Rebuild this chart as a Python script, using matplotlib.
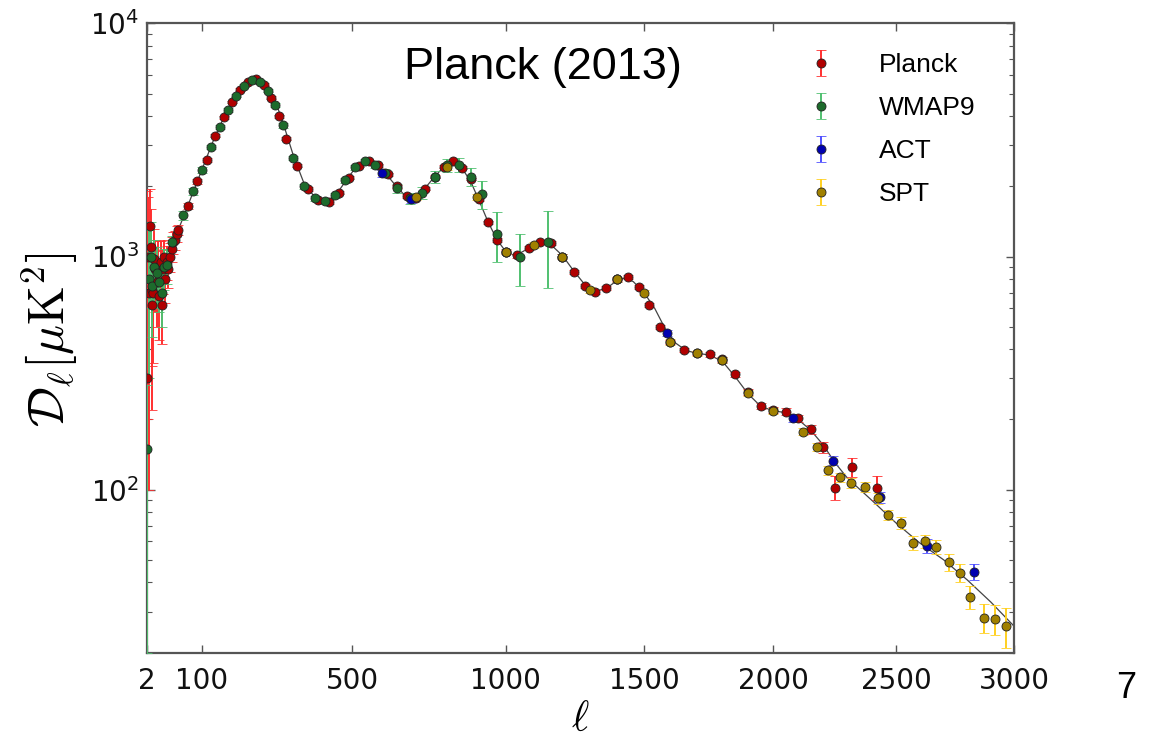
import numpy as np
import matplotlib
matplotlib.use("Agg")
import matplotlib.pyplot as plt
from matplotlib.ticker import FixedLocator, LogLocator, NullFormatter, FixedFormatter

# ---------------- data ----------------
# best-fit model curve
model_l = [2, 5, 10, 20, 30, 40, 50, 70, 90, 110, 130, 150, 170, 190, 210, 225, 240, 260, 280, 300,
           330, 360, 390, 420, 450, 480, 510, 540, 570, 600, 630, 660, 690, 720, 760, 790, 820,
           850, 880, 910, 940, 970, 1000, 1030, 1060, 1100, 1130, 1160, 1200, 1240, 1280, 1320,
           1360, 1400, 1430, 1460, 1500, 1540, 1580, 1620, 1660, 1700, 1750, 1800, 1850, 1900,
           1950, 2000, 2050, 2100, 2150, 2200, 2250, 2300, 2400, 2500, 2600, 2700, 2800, 2900, 3000]
model_D = [1000, 850, 800, 850, 950, 1100, 1280, 1650, 2100, 2650, 3300, 3950, 4600, 5200, 5600, 5720,
           5650, 5300, 4650, 3800, 2700, 2050, 1800, 1720, 1820, 2100, 2400, 2550, 2500, 2300, 2050,
           1850, 1790, 1900, 2200, 2420, 2520, 2400, 2100, 1720, 1400, 1180, 1050, 1010, 1050, 1130,
           1160, 1120, 1010, 870, 760, 710, 730, 790, 810, 780, 700, 600, 490, 425, 395, 385, 378,
           355, 305, 258, 228, 218, 214, 200, 180, 156, 130, 112, 90, 72, 59, 50, 41, 33, 26]

# Planck
planck_l = [2, 3, 4, 5, 6, 7, 8, 9, 10, 12, 14, 16, 18, 20, 22, 24, 26, 28, 30, 33, 36, 39, 42, 45, 48,
            50, 70, 90, 110, 130, 150, 170, 190, 210, 230, 250, 270, 290, 310, 340, 370, 400, 430,
            460, 490, 520, 550, 580, 610, 640, 670, 700, 730, 760, 790, 820, 850, 880, 910, 940,
            970, 1000, 1040, 1080, 1120, 1160, 1200, 1240, 1280, 1320, 1360, 1400, 1440, 1480,
            1520, 1560, 1600, 1650, 1700, 1750, 1800, 1850, 1900, 1950, 2000, 2050, 2100, 2150,
            2200, 2250, 2320, 2420]
planck_D = [300, 1000, 700, 1350, 1100, 620, 720, 700, 980, 880, 780, 900, 680, 950, 620, 880, 1000,
            800, 950, 880, 1000, 1080, 1150, 1180, 1250,
            1300, 1650, 2100, 2600, 3300, 3950, 4600, 5200, 5600, 5750, 5450, 4800, 4000, 3200,
            2450, 1950, 1750, 1710, 1880, 2180, 2450, 2560, 2460, 2250, 2000, 1820, 1790, 1950,
            2200, 2430, 2560, 2400, 2150, 1760, 1400, 1180, 1050, 1010, 1090, 1150, 1140, 1000,
            860, 750, 705, 735, 800, 815, 740, 620, 500, 430, 398, 386, 380, 362, 312, 262,
            228, 220, 216, 202, 182, 152, 102, 125, 102]
planck_err = [1600, 800, 600, 600, 500, 400, 380, 350, 330, 300, 280, 260, 240, 220, 200, 190, 180,
              170, 160, 150, 140, 130, 120, 110, 100,
              60, 50, 50, 50, 60, 60, 60, 70, 70, 70, 70, 60, 60, 50, 40, 35, 30, 30, 30, 30, 35,
              35, 35, 30, 30, 30, 30, 30, 35, 35, 35, 35, 30, 30, 25, 25, 20, 20, 20, 20, 20, 20,
              18, 15, 15, 15, 15, 15, 15, 12, 10, 10, 8, 8, 8, 8, 8, 7, 7, 7, 7, 7, 8, 8, 12, 12, 12]

# WMAP9
wmap_l = [2, 4, 6, 8, 10, 14, 18, 22, 26, 30, 40, 60, 80, 100, 120, 140, 160, 180, 200, 220, 240,
          260, 280, 300, 330, 360, 390, 420, 450, 480, 510, 540, 570, 600, 640, 680, 720, 760,
          800, 840, 880, 920, 970, 1050, 1150]
wmap_D = [150, 800, 1000, 750, 900, 850, 780, 700, 900, 920, 1150, 1500, 1900, 2350, 2950, 3600,
          4250, 4900, 5400, 5700, 5600, 5150, 4450, 3650, 2650, 2000, 1780, 1730, 1830, 2120, 2420,
          2560, 2480, 2280, 1960, 1780, 1870, 2200, 2460, 2480, 2200, 1850, 1250, 1000, 1150]
wmap_err = [130, 500, 400, 300, 280, 250, 200, 200, 180, 160, 80, 60, 60, 60, 70, 80, 80, 90, 90,
            90, 90, 90, 80, 80, 60, 50, 45, 45, 50, 55, 60, 70, 80, 90, 90, 100, 110, 130, 150,
            170, 200, 250, 300, 250, 420]

# ACT
act_l = [593, 685, 1000, 1200, 1400, 1586, 1800, 2081, 2240, 2435, 2630, 2830]
act_D = [2280, 1760, 1050, 1000, 800, 470, 360, 203, 133, 93, 57.5, 44.4]
act_err = [80, 60, 30, 25, 20, 15, 12, 8, 6, 5, 4, 3.5]

# SPT
spt_l = [700, 800, 900, 1000, 1100, 1200, 1300, 1400, 1500, 1600, 1700, 1800, 1900, 2000, 2121,
         2174, 2222, 2270, 2315, 2372, 2427, 2467, 2522, 2572, 2621, 2666, 2721, 2767, 2813,
         2869, 2920, 2967]
spt_D = [1800, 2420, 1800, 1050, 1120, 1000, 720, 800, 700, 430, 385, 360, 260, 218, 177, 152,
         121, 113, 107, 103, 92, 78, 72, 59, 60, 57, 49, 44, 34.7, 28.2, 27.9, 26.0]
spt_err = [60, 60, 50, 30, 30, 25, 20, 20, 15, 12, 10, 10, 8, 7, 6, 6, 5, 5, 5, 5, 5, 4, 4,
           4, 4, 4, 4, 4, 4, 4, 4, 5]

legend_labels = ["Planck", "WMAP9", "ACT", "SPT"]
x_ticks = [2, 100, 500, 1000, 1500, 2000, 2500, 3000]

# ---------------- figure ----------------
W, H = 1154, 742
tick_font = "Liberation Sans Narrow"
plt.rcParams["mathtext.rm"] = tick_font
plt.rcParams["mathtext.it"] = tick_font + ":italic"
plt.rcParams["mathtext.bf"] = tick_font + ":bold"

fig = plt.figure(figsize=(W / 100, H / 100), dpi=100)
ax = fig.add_axes([147.3 / W, 1 - 652.7 / H, (1014 - 147.3) / W, (652.7 - 23.3) / H])

p = 0.8
fwd = lambda x: np.sign(x) * np.abs(x) ** p
inv = lambda y: np.sign(y) * np.abs(y) ** (1 / p)
ax.set_xscale("function", functions=(fwd, inv))
ax.set_yscale("log")

ax.plot(model_l, model_D, color="#444444", lw=0.9, zorder=1)

styles = [
    (planck_l, planck_D, planck_err, "#ff3030", "#b00000"),
    (wmap_l, wmap_D, wmap_err, "#50c070", "#1d6b2c"),
    (act_l, act_D, act_err, "#5050ff", "#0000b0"),
    (spt_l, spt_D, spt_err, "#ffd020", "#a08000"),
]
handles = []
for (l, d, e, ecol, mcol), lab in zip(styles, legend_labels):
    d = np.array(d, float)
    e = np.array(e, float)
    lower = np.minimum(e, d - 1)
    h = ax.errorbar(l, d, yerr=[lower, e], fmt="o", ms=6.5, mfc=mcol, mec="#222222", mew=0.6,
                    ecolor=ecol, elinewidth=1.4, capsize=3.5, capthick=1.2, label=lab, zorder=3)
    handles.append(h)

ax.set_xlim(2, 3000)
ax.set_ylim(20, 1e4)

ax.xaxis.set_major_locator(FixedLocator(x_ticks))
ax.xaxis.set_major_formatter(FixedFormatter([str(t) for t in x_ticks]))
ax.xaxis.set_minor_locator(FixedLocator([]))
ax.yaxis.set_major_locator(FixedLocator([1e2, 1e3, 1e4]))
ax.yaxis.set_major_formatter(FixedFormatter([r"$10^2$", r"$10^3$", r"$10^4$"]))
ax.yaxis.set_minor_locator(LogLocator(base=10, subs=np.arange(2, 10)))
ax.yaxis.set_minor_formatter(NullFormatter())

ax.tick_params(which="both", direction="in", top=True, right=True, color="#555555")
ax.tick_params(which="major", length=6, width=1)
ax.tick_params(which="minor", length=3.5, width=0.8)
ax.tick_params(axis="x", pad=10)
ax.tick_params(axis="y", pad=6)
for lab in ax.get_xticklabels() + ax.get_yticklabels():
    lab.set_fontfamily(tick_font)
    lab.set_fontsize(20)
    lab.set_color("#111111")
    lab.set_math_fontfamily("custom")

for s in ax.spines.values():
    s.set_color("#555555")
    s.set_linewidth(1.6)

ax.set_xlabel(r"$\ell$", fontsize=30, math_fontfamily="cm", labelpad=2)
ax.set_ylabel(r"$\mathcal{D}_\ell[\mu\mathrm{K}^2]$", fontsize=36, math_fontfamily="cm")
ax.yaxis.set_label_coords(-0.078, 0.497)

leg = ax.legend(handles=handles, labels=legend_labels, loc="upper right",
                bbox_to_anchor=(0.983, 0.99), frameon=False,
                labelspacing=0.72, handletextpad=1.4, handlelength=1.6, numpoints=1,
                prop={"family": "Liberation Sans", "size": 19})

fig.text(543 / W, 1 - 68 / H, "Planck (2013)", fontsize=32.5, family="Liberation Sans",
         ha="center", va="center")
fig.text(1126 / W, 1 - 688 / H, "7", fontsize=26, family="Liberation Sans",
         ha="center", va="center")

fig.savefig("out.png", dpi=100)
